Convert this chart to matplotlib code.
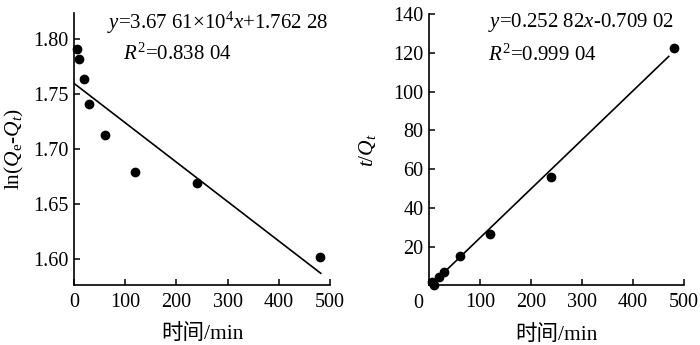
import matplotlib
matplotlib.use("Agg")
import matplotlib.pyplot as plt
import numpy as np

# ---- data ----
time_min = [5, 10, 20, 30, 60, 120, 240, 480]
ln_qe_qt = [1.791, 1.782, 1.764, 1.741, 1.713, 1.679, 1.669, 1.601]
t_over_qt = [2.0, 0.3, 4.2, 6.8, 15.4, 26.6, 55.7, 122.7]

fit1_slope, fit1_intercept = -3.59e-4, 1.7596
fit1_range = [0, 482]
fit2_slope, fit2_intercept = 0.25282, -0.70902
fit2_range = [3, 470]

eq1 = r"$y$=3.67 61×10$^4$$x$+1.762 28"
r1 = r"$R^2$=0.838 04"
eq2 = r"$y$=0.252 82$x$-0.709 02"
r2 = r"$R^2$=0.999 04"

xticks = [0, 100, 200, 300, 400, 500]
yticks1 = [1.60, 1.65, 1.70, 1.75, 1.80]
yticks2 = [20, 40, 60, 80, 100, 120, 140]

plt.rcParams['font.family'] = ['Liberation Serif', 'Noto Sans CJK SC']
plt.rcParams['mathtext.fontset'] = 'custom'
plt.rcParams['mathtext.rm'] = 'Liberation Serif'
plt.rcParams['mathtext.it'] = 'Liberation Serif:italic'
plt.rcParams['mathtext.bf'] = 'Liberation Serif:bold'

TICK_FS = 14.5
LAB_FS = 15.5
EQ_FS = 15

fig = plt.figure(figsize=(7.0, 3.45), dpi=100)
ax1 = fig.add_axes([0.1057, 0.1739, 0.3657, 0.7875])
ax2 = fig.add_axes([0.6129, 0.1725, 0.3643, 0.7870])

for ax in (ax1, ax2):
    for s in ('top', 'right'):
        ax.spines[s].set_visible(False)
    for s in ('left', 'bottom'):
        ax.spines[s].set_linewidth(1.2)
    ax.tick_params(direction='in', length=4, width=1.1, labelsize=TICK_FS, pad=4)
    ax.tick_params(axis='x', pad=5.5)
    ax.set_xlim(0, 500)

# ---- left panel ----
ax1.plot(time_min, ln_qe_qt, 'o', color='black', ms=6, clip_on=False, zorder=3)
xf = np.array(fit1_range)
ax1.plot(xf, fit1_slope * xf + fit1_intercept, color='black', lw=1.2)
ax1.set_ylim(1.5759, 1.8234)
ax1.set_xticks(xticks)
ax1.set_yticks(yticks1)
ax1.set_yticklabels([f"{v:.2f}" for v in yticks1])
ax1.set_ylabel(r"ln($Q_\mathrm{e}$-$Q_t$)", fontsize=LAB_FS, labelpad=5)
ax1.set_xlabel("时间/min", fontsize=LAB_FS, labelpad=9)
ax1.text(0.129, 0.964, eq1, transform=ax1.transAxes, fontsize=EQ_FS, va='center', ha='left')
ax1.text(0.191, 0.850, r1, transform=ax1.transAxes, fontsize=EQ_FS, va='center', ha='left')

# ---- right panel ----
ax2.plot(time_min, t_over_qt, 'o', color='black', ms=6, clip_on=False, zorder=3)
xf2 = np.array(fit2_range)
ax2.plot(xf2, fit2_slope * xf2 + fit2_intercept, color='black', lw=1.2)
ax2.set_ylim(0, 140)
ax2.set_xticks(xticks)
ax2.set_xticklabels([''] + [str(v) for v in xticks[1:]])
ax2.set_yticks(yticks2)
ax2.set_ylabel(r"$t$/$Q_t$", fontsize=LAB_FS, labelpad=11)
ax2.set_xlabel("时间/min", fontsize=LAB_FS, labelpad=9)
ax2.text(-0.043, -0.03, "0", transform=ax2.transAxes, fontsize=TICK_FS, va='top', ha='center')
ax2.text(0.231, 0.967, eq2, transform=ax2.transAxes, fontsize=EQ_FS, va='center', ha='left')
ax2.text(0.231, 0.849, r2, transform=ax2.transAxes, fontsize=EQ_FS, va='center', ha='left')

fig.savefig("out.png", dpi=100)
